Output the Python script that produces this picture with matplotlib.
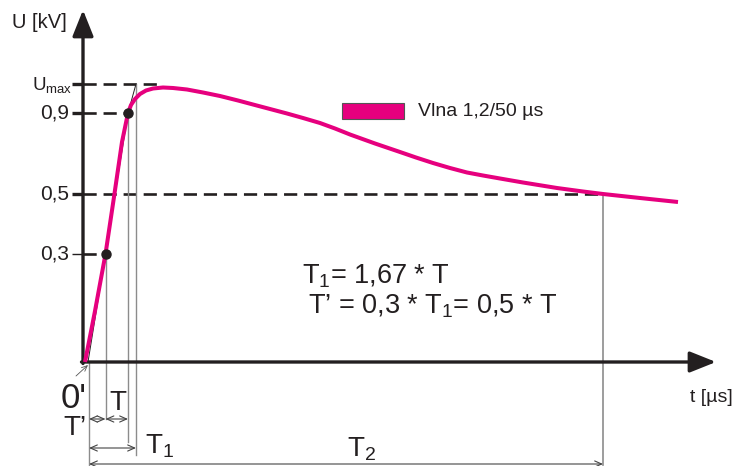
import matplotlib
matplotlib.use("Agg")
import matplotlib.pyplot as plt
from matplotlib.patches import Rectangle

plt.rcParams["font.family"] = "Liberation Sans"
plt.rcParams["mathtext.fontset"] = "custom"
plt.rcParams["mathtext.rm"] = "Liberation Sans"
plt.rcParams["mathtext.it"] = "Liberation Sans:italic"

# impulse wave 1,2/50 us, drawn in sketch units (not to scale)
wave_t = [2, 12, 22.5, 31, 39, 45, 48, 52, 57, 63, 70, 80, 90, 104, 120, 137, 155,
          170, 187, 204, 220, 237, 252, 267, 292, 317, 333, 350, 367, 384, 400, 417,
          440, 474, 500, 520, 557, 595]
wave_u = [0, 51, 108, 165, 220, 249, 257, 263, 268, 271.5, 273.5, 274.5, 274, 272.5,
          269.5, 266, 261.5, 257.5, 253, 248.5, 244, 239, 233.5, 227.5, 218.5, 210,
          204.5, 199, 194, 189.5, 186.5, 183.5, 179.5, 174, 170.5, 168, 164, 160]

level_labels = ["U$_\\mathrm{max}$", "0,9", "0,5", "0,3"]
level_u = [278, 249, 168, 108]
level_t = [80, 45, 520, 22.5]    # where each dashed guide stops

t_zero = 6        # virtual origin 0'
t_03 = 22.5
t_09 = 45
t_T1 = 53
t_T2 = 520

front_t = [5, t_03, t_09, t_T1]
front_u = [0, 108, 249, 278]

wave_color = "#e6007e"
ink = "#231f20"
grey = "#8c8c8c"

fig = plt.figure(figsize=(7.34, 4.66), dpi=100)
ax = fig.add_axes([0, 0, 1, 1])
ax.set_xlim(-83, 651)
ax.set_ylim(-104, 362)
ax.axis("off")

# axes with arrow heads
axis_style = "-|>,head_length=0.8,head_width=0.32"
ax.annotate("", xy=(0, 352), xytext=(0, -1.5),
            arrowprops=dict(arrowstyle=axis_style, mutation_scale=20, lw=2.4,
                            color=ink, shrinkA=0, shrinkB=0))
ax.annotate("", xy=(633, 0), xytext=(-1.5, 0),
            arrowprops=dict(arrowstyle=axis_style, mutation_scale=20, lw=2.4,
                            color=ink, shrinkA=0, shrinkB=0))

# level ticks, dashed guides and labels
for lab, u, t in zip(level_labels, level_u, level_t):
    tick_lw = 1.0 if lab == "0,3" else 2.4
    ax.plot([-11, 0], [u, u], color=ink, lw=tick_lw, solid_capstyle="butt")
    ax.plot([0, t], [u, u], color=ink, lw=1.9, linestyle=(0, (5, 2.6)),
            dash_capstyle="butt")
    if lab.startswith("U"):
        ax.text(-11, u - 1, lab, ha="right", va="center", fontsize=13.5, color=ink)
    else:
        ax.text(-14, u, lab, ha="right", va="center", fontsize=15, color=ink)

# vertical time markers
ax.plot([t_zero, t_zero], [0, -103], color=grey, lw=1.0)
ax.plot([t_03, t_03], [108, -57], color=grey, lw=1.0)
ax.plot([t_09, t_09], [249, -80], color=grey, lw=1.0)
ax.plot([t_T1, t_T1], [278, -93], color=grey, lw=1.0)
ax.plot([t_T2, t_T2], [168, -103], color=grey, lw=1.2)

# virtual front line
ax.plot(front_t, front_u, color=ink, lw=0.7)

# wave
ax.plot(wave_t, wave_u, color=wave_color, lw=2.9, solid_capstyle="butt",
        solid_joinstyle="round", zorder=4)
ax.plot([t_03, t_09], [108, 249], "o", color=ink, ms=6.5, zorder=5)

# time spans
span_style = dict(arrowstyle="<->,head_length=0.5,head_width=0.22", mutation_scale=10,
                  lw=0.8, color="#444444", shrinkA=0, shrinkB=0)
ax.annotate("", xy=(t_03, -57), xytext=(t_zero, -57), arrowprops=span_style)
ax.annotate("", xy=(t_09, -57), xytext=(t_03, -57), arrowprops=span_style)
ax.annotate("", xy=(t_T1, -86), xytext=(t_zero, -86), arrowprops=span_style)
ax.annotate("", xy=(t_T2, -102), xytext=(t_zero, -102), arrowprops=span_style)
ax.annotate("", xy=(5, -3), xytext=(-7, -14),
            arrowprops=dict(arrowstyle="->,head_length=0.5,head_width=0.22",
                            mutation_scale=8, lw=0.6, color="#555555",
                            shrinkA=0, shrinkB=0))

ax.text(-71, 340, "U [kV]", ha="left", va="center", fontsize=14.5, color=ink)
ax.text(607, -35, "t [µs]", ha="left", va="center", fontsize=14, color=ink)
ax.text(4, -20, "0'", ha="right", va="top", fontsize=25, color=ink)
ax.text(-8, -66, "T’", ha="center", va="center", fontsize=20, color=ink)
ax.text(34.5, -41, "T", ha="center", va="center", fontsize=20, color=ink)
ax.text(62, -84, "T$_1$", ha="left", va="center", fontsize=20, color=ink)
ax.text(264, -87, "T$_2$", ha="left", va="center", fontsize=20, color=ink)

ax.text(219, 86, "T$_1$= 1,67 * T", ha="left", va="center", fontsize=19.5, color=ink)
ax.text(225, 56, "T’ = 0,3 * T$_1$= 0,5 * T", ha="left", va="center", fontsize=19.5,
        color=ink)

# legend
ax.add_patch(Rectangle((259, 243), 62, 16, facecolor=wave_color, edgecolor="#555555",
                       lw=0.8))
ax.text(335, 251, "Vlna 1,2/50 µs", ha="left", va="center", fontsize=14, color=ink)

fig.savefig("out.png", dpi=100)
